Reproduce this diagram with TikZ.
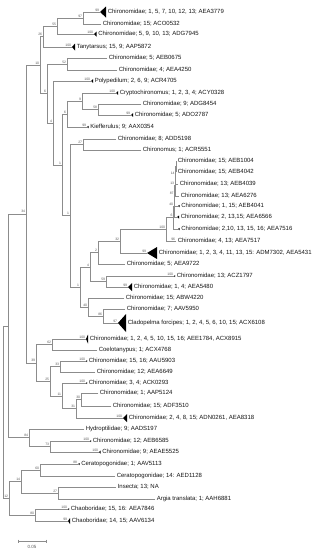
\documentclass[tikz,border=0pt]{standalone}
\usepackage{fontspec}
\setmainfont{Liberation Sans}
\definecolor{linegray}{RGB}{140,140,140}
\definecolor{txt}{RGB}{20,20,20}
\definecolor{bsgray}{RGB}{90,90,90}
\begin{document}
\begin{tikzpicture}[x=1pt,y=-1pt,
  br/.style={draw=linegray,line width=0.6pt},
  lab/.style={font=\fontsize{6}{7}\selectfont,anchor=west,inner sep=0pt,text=txt},
  bs/.style={font=\fontsize{3.4}{3.6}\selectfont,anchor=south east,inner sep=0.2pt,text=bsgray},
  tri/.style={fill=black}]
\useasboundingbox (0,0) rectangle (313,550);
% internal nodes
\foreach \n/\x/\y in {R/3/412, N8/8/325.8, N34/26/213.9, N10/40/65, C26/43/36.5, B55/57/26,
  A97/83/18, N6/47/93.5, D52/67/64, N4/53/122.95, N1a/62/164.9, G6/67/114.1, F9/82/101.25,
  E58/98/109.5, N1b/70/215.75, N27/83/144.5, N1c/80/287, N4b/90/267.05, N2/98/252.6,
  N32/120/241.2, Big/166/229.35, m5/173.5/217.7, m4b/174/206.4, m4/174.5/195.8, m3/175/185.6,
  m2/175.5/175.25, m1/176/166.5, N59/106/281.5, N40/88/307, N86/103/316, N39/36/362.8,
  N62/52/344.5, N25/50/381.2, N33/60/366.5, N11/62/395.9, N31/76/408.75, N30/81/399.5,
  N84/29/437.75, N73/50/446.5, N12/9/498.25, N14/21/481.5, N60/40/470, N27b/58/493, N80/35/515}
  {\coordinate (\n) at (\x,\y);}
% leaves: name/x/y/triangle width/half height/text
\foreach \n/\x/\y/\w/\h/\t in {
  L1/100/12/6/5.5/{Chironomidae; 1, 5, 7, 10, 12, 13; AEA3779},
  L2/101/24/0/0/{Chironomidae; 15; ACO0532},
  L3/94/34/2.5/2.5/{Chironomidae; 5, 9, 10, 13; ADG7945},
  L4/72/47/3/3.5/{Tanytarsus; 15, 9; AAP5872},
  L5/107/58/0/0/{Chironomidae; 5; AEB0675},
  L6/117/70/0/0/{Chironomidae; 4; AEA4250},
  L7/91/81/2/1.8/{Polypedilum; 2, 6, 9; ACR4705},
  L8/116/93/2/1.8/{Cryptochironomus; 1, 2, 3, 4; ACY0328},
  L9/141/104/0/0/{Chironomidae; 9; ADG8454},
  L10/131/115/2/1.8/{Chironomidae; 5; ADO2787},
  L11/87/127/1.5/1.2/{Kiefferulus; 9; AAX0354},
  L12/116/139/0/0/{Chironomidae; 8; ADD5198},
  L13/141/150/0/0/{Chironomus; 1; ACR5551},
  L14/176/161/0/0/{Chironomidae; 15; AEB1004},
  L15/176/172/0/0/{Chironomidae; 15; AEB4042},
  L16/178/184/0/0/{Chironomidae; 13; AEB4039},
  L17/179/196/0/0/{Chironomidae; 13; AEA6276},
  L18/178/206/1.5/1.2/{Chironomidae; 1, 15; AEB4041},
  L19/177/217/2/1.5/{Chironomidae; 2, 13,15; AEA6566},
  L20/178/229/1.5/1.2/{Chironomidae; 2,10, 13, 15, 16; AEA7516},
  L21/176/241/0/0/{Chironomidae; 4, 13; AEA7517},
  L22/147/253/10/6/{Chironomidae; 1, 2, 3, 4, 11, 13, 15: ADM7302, AEA5431},
  L23/125/264/0/0/{Chironomidae; 5; AEA9722},
  L24/174/276/1/1/{Chironomidae; 13; ACZ1797},
  L25/128/287/4/4/{Chironomidae; 1, 4; AEA5480},
  L26/124/298/0/0/{Chironomidae; 15; ABW4220},
  L27/125/309/0/0/{Chironomidae; 7; AAV5950},
  L28/118/323/8/9/{Cladopelma forcipes; 1, 2, 4, 5, 6, 10, 15; ACX6108},
  L29/86/339/2/4.5/{Chironomidae; 1, 2, 4, 5, 10, 15, 16; AEE1784, ACX8915},
  L30/97/350/0/0/{Coelotanypus; 1; ACX4768},
  L31/86/361/1/1/{Chironomidae; 15, 16; AAU5903},
  L32/95/372/0/0/{Chironomidae; 12; AEA6649},
  L33/86/383/1/1/{Chironomidae; 3, 4; ACK0293},
  L34/98/393/0/0/{Chironomidae; 1; AAP5124},
  L35/111/406/0/0/{Chironomidae; 15; ADF3510},
  L36/123/418/4/4/{Chironomidae; 2, 4, 8, 15; ADN0261, AEA8318},
  L37/84/429/0/0/{Hydroptilidae; 9; AADS197},
  L38/90/441/1/1/{Chironomidae; 12; AEB6585},
  L39/99/452/1.5/1.5/{Chironomidae; 9; AEAE5525},
  L40/78/464/1.5/1/{Ceratopogonidae; 1; AAV5113},
  L41/115/476/0/0/{Ceratopogonidae; 14: AED1128},
  L42/116/487/0/0/{Insecta; 13; NA},
  L43/155/499/0/0/{Argia translata; 1; AAH6881},
  L44/68/509/1/1/{Chaoboridae; 15, 16: AEA7846},
  L45/68/521/2/3/{Chaoboridae; 14, 15; AAV6134}}
{
  \coordinate (\n) at (\x,\y);
  \fill[tri] (\n) -- ++(\w,-\h) -- ++(0,2*\h) -- cycle;
  \node[lab] (\n t) at ([xshift=\w pt+1.6pt]\n) {\t};
}
% branches
\foreach \p/\c in {R/N8, R/N12, N8/N34, N8/N84, N34/N10, N34/N39, N10/C26, N10/N6,
  C26/B55, C26/L4, B55/A97, B55/L3, A97/L1, A97/L2, N6/D52, N6/N4, D52/L5, D52/L6,
  N4/L7, N4/N1a, N1a/G6, N1a/N1b, G6/F9, G6/L11, F9/L8, F9/E58, E58/L9, E58/L10,
  N1b/N27, N1b/N1c, N27/L12, N27/L13, N1c/N4b, N1c/N40, N4b/N2, N4b/N59, N2/N32, N2/L23,
  N32/Big, N32/L22, Big/m5, Big/L21, m5/m4b, m5/L20, m4b/m4, m4b/L19, m4/m3, m4/L18,
  m3/m2, m3/L17, m2/m1, m2/L16, m1/L14, m1/L15, N59/L24, N59/L25, N40/L26, N40/N86,
  N86/L27, N86/L28, N39/N62, N39/N25, N62/L29, N62/L30, N25/N33, N25/N11, N33/L31, N33/L32,
  N11/L33, N11/N31, N31/N30, N31/L36, N30/L34, N30/L35, N84/L37, N84/N73, N73/L38, N73/L39,
  N12/N14, N12/N80, N14/N60, N14/N27b, N60/L40, N60/L41, N27b/L42, N27b/L43, N80/L44, N80/L45}
  {\draw[br] (\p) |- (\c);}
% bootstrap values
\foreach \n/\l in {N34/34, N10/10, C26/26, B55/55, A97/97, N6/6, D52/52, N4/4, N1a/1, G6/6,
  F9/9, E58/58, N1b/1, N27/27, N1c/1, N4b/4, N2/2, N32/32, Big/100, m2/14, m3/13, m4/87,
  m4b/40, m5/6, N59/59, N40/40, N86/86, N39/39, N62/62, N25/25, N33/33, N11/11, N31/31,
  N30/30, N84/84, N73/73, N12/12, N14/14, N60/60, N27b/27, N80/80,
  L1/99, L3/100, L4/100, L7/100, L8/100, L10/99, L11/99, L21/96, L22/99, L24/100, L25/99,
  L28/97, L29/100, L31/100, L33/100, L36/100, L38/100, L39/100, L40/88, L44/100, L45/99}
  {\node[bs] at ([xshift=-0.5pt,yshift=0.5pt]\n) {\l};}
% scale bar
\coordinate (s1) at (18,541);
\coordinate (s2) at (46,541);
\draw[br] (s1) -- (s2);
\draw[br] ([yshift=1.5pt]s1) -- ([yshift=-1.5pt]s1);
\draw[br] ([yshift=1.5pt]s2) -- ([yshift=-1.5pt]s2);
\node[font=\fontsize{4.5}{5}\selectfont,text=bsgray,inner sep=0pt] (sl) at (32,547) {0.05};
\end{tikzpicture}
\end{document}
